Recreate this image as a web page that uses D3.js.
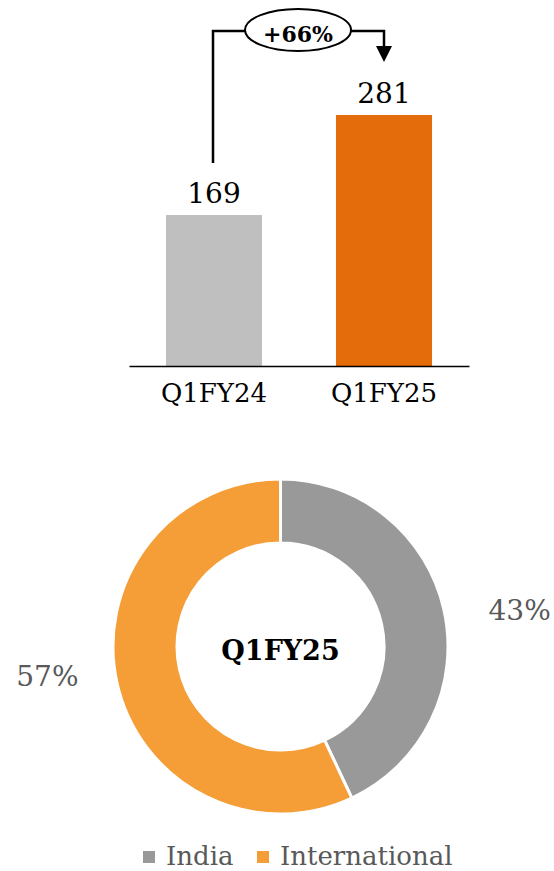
<!DOCTYPE html>
<html>
<head>
<meta charset="utf-8">
<script src="https://cdn.jsdelivr.net/npm/d3@7"></script>
<style>
  body { margin: 0; background: #fff; }
  svg text { font-family: "DejaVu Serif", serif; }
</style>
</head>
<body>
<script>
// bar chart data
var quarters = ["Q1FY24", "Q1FY25"];
var revenue = [169, 281];
var barColors = ["#bfbfbf", "#e46c0a"];
var growthLabel = "+66%";

// donut data
var regions = ["India", "International"];
var regionShare = [43, 57];
var regionColors = ["#999999", "#f59d36"];
var donutTitle = "Q1FY25";

var width = 554, height = 871;
var svg = d3.select("body").append("svg").attr("width", width).attr("height", height);

// ---- bars ----
var baseY = 366;
var x = d3.scaleBand().domain(quarters).range([129, 469]).paddingInner(0.435).paddingOuter(0.2175);
var y = d3.scaleLinear().domain([0, 300]).range([baseY, baseY - 268]);

svg.selectAll("rect.bar").data(quarters).enter().append("rect")
    .attr("class", "bar")
    .attr("x", function (d) { return x(d); })
    .attr("y", function (d, i) { return y(revenue[i]); })
    .attr("width", x.bandwidth())
    .attr("height", function (d, i) { return baseY - y(revenue[i]); })
    .attr("fill", function (d, i) { return barColors[i]; });

svg.selectAll("text.val").data(quarters).enter().append("text")
    .attr("class", "val")
    .attr("x", function (d) { return x(d) + x.bandwidth() / 2; })
    .attr("y", function (d, i) { return y(revenue[i]) - 12; })
    .attr("text-anchor", "middle")
    .attr("font-size", 28)
    .attr("fill", "#000")
    .text(function (d, i) { return revenue[i]; });

var xAxis = svg.append("g").attr("transform", "translate(0," + baseY + ")")
    .call(d3.axisBottom(x).tickSize(0).tickPadding(17));
xAxis.select(".domain").attr("stroke", "#000").attr("stroke-width", 1.5);
xAxis.selectAll("text").attr("font-size", 26).attr("fill", "#000")
    .attr("font-family", "DejaVu Serif, serif").attr("dy", "0.72em");

// growth arrow
var cx0 = x(quarters[0]) + x.bandwidth() / 2 - 1;
var cx1 = x(quarters[1]) + x.bandwidth() / 2;
var arrowY = 31;
var ellX = (cx0 + cx1) / 2 - 0.5, ellY = 30, rx = 53, ry = 21;
svg.append("path")
    .attr("d", "M" + cx0 + "," + (y(revenue[0]) - 52) + "V" + arrowY + "H" + (ellX - rx)
        + "M" + (ellX + rx) + "," + arrowY + "H" + cx1 + "V" + 50)
    .attr("fill", "none").attr("stroke", "#000").attr("stroke-width", 2.5);
svg.append("path")
    .attr("d", "M" + (cx1 - 8) + ",46L" + (cx1 + 8) + ",46L" + cx1 + ",62Z")
    .attr("fill", "#000");
svg.append("ellipse")
    .attr("cx", ellX).attr("cy", ellY).attr("rx", rx).attr("ry", ry)
    .attr("fill", "#fff").attr("stroke", "#000").attr("stroke-width", 2);
svg.append("text")
    .attr("x", ellX).attr("y", 42)
    .attr("text-anchor", "middle").attr("font-size", 22).attr("font-weight", "bold")
    .text(growthLabel);

// ---- donut ----
var dcx = 280.5, dcy = 646.5, rOut = 167.5, rIn = 103.5;
var pie = d3.pie().sort(null).value(function (d) { return d; });
var arc = d3.arc().innerRadius(rIn).outerRadius(rOut);
var labelArc = d3.arc().innerRadius(244).outerRadius(244);
var arcs = pie(regionShare);

var donut = svg.append("g").attr("transform", "translate(" + dcx + "," + dcy + ")");
donut.selectAll("path").data(arcs).enter().append("path")
    .attr("d", arc)
    .attr("fill", function (d, i) { return regionColors[i]; })
    .attr("stroke", "#fff").attr("stroke-width", 3);

donut.selectAll("text.pct").data(arcs).enter().append("text")
    .attr("class", "pct")
    .attr("x", function (d) { return labelArc.centroid(d)[0]; })
    .attr("y", function (d) { return labelArc.centroid(d)[1]; })
    .attr("dy", function (d, i) { return i === 0 ? 27 : -14; })
    .attr("dx", function (d, i) { return i === 0 ? 1 : 5; })
    .attr("text-anchor", "middle")
    .attr("font-size", 28)
    .attr("fill", "#595959")
    .text(function (d) { return d.data + "%"; });

donut.append("text")
    .attr("x", 0).attr("y", 13)
    .attr("text-anchor", "middle").attr("font-size", 27).attr("font-weight", "bold")
    .attr("fill", "#000")
    .text(donutTitle);

// ---- legend ----
var legendX = [143, 257];
var legend = svg.selectAll("g.leg").data(regions).enter().append("g")
    .attr("class", "leg")
    .attr("transform", function (d, i) { return "translate(" + legendX[i] + ",851)"; });
legend.append("rect").attr("width", 12).attr("height", 12)
    .attr("fill", function (d, i) { return regionColors[i]; });
legend.append("text").attr("x", 23).attr("y", 14)
    .attr("font-size", 26).attr("fill", "#595959")
    .text(function (d) { return d; });
</script>
</body>
</html>
